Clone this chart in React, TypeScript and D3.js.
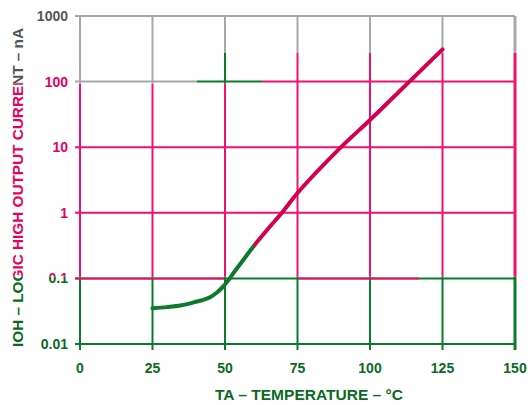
import React from "react";
import * as d3 from "d3";

const tempTicks = [0, 25, 50, 75, 100, 125, 150];
const tempTickLabels = ["0", "25", "50", "75", "100", "125", "150"];
const currentTicks = [0.01, 0.1, 1, 10, 100, 1000];
const currentTickLabels = ["0.01", "0.1", "1", "10", "100", "1000"];

const tempData = [25, 30, 35, 40, 42.5, 45, 47, 49, 51, 53, 55, 57.5, 60, 65, 70, 75, 90, 100, 110, 125];
const currentData = [0.035, 0.0365, 0.039, 0.044, 0.047, 0.052, 0.06, 0.072, 0.092, 0.122, 0.16, 0.225, 0.315, 0.58, 1.05, 2.0, 10, 26, 70, 310];

const xTitle = "TA – TEMPERATURE – °C";
const yTitle = "IOH – LOGIC HIGH OUTPUT CURRENT – nA";

const W = 530, H = 405;
const x = d3.scaleLinear().domain([0, 150]).range([80, 515]);
const y = d3.scaleLog().domain([0.01, 1000]).range([344, 16]);

const PINK = "#f0106e";
const PINK_TEXT = "#e8005e";
const CURVE_PINK = "#d3004f";
const GREEN = "#0b7a2a";
const GREEN_TEXT = "#0a6a24";
const GRAY = "#a8a8a8";
const GRAY_TEXT = "#555555";

const FONT = "'Liberation Sans', Arial, sans-serif";

function Layer({ line, text, clip }: { line: string; text: string; clip: string }) {
  return (
    <g clipPath={`url(#${clip})`}>
      {currentTicks.map((v) => (
        <line key={"h" + v} x1={x(0) - 5} x2={x(150)} y1={y(v)} y2={y(v)} stroke={line} strokeWidth={2} />
      ))}
      {tempTicks.map((t) => (
        <line key={"v" + t} x1={x(t)} x2={x(t)} y1={y(1000)} y2={y(0.01) + 6} stroke={line} strokeWidth={t === 150 ? 3 : 2} />
      ))}
      {currentTicks.map((v, i) => (
        <text key={"yl" + v} x={68} y={y(v) + 5} textAnchor="end" fontFamily={FONT} fontWeight="bold" fontSize={14} fill={text}>
          {currentTickLabels[i]}
        </text>
      ))}
      {tempTicks.map((t, i) => (
        <text key={"xl" + t} x={x(t)} y={373} textAnchor="middle" fontFamily={FONT} fontWeight="bold" fontSize={14} fill={text}>
          {tempTickLabels[i]}
        </text>
      ))}
      <text x={309} y={399.5} textAnchor="middle" fontFamily={FONT} fontWeight="bold" fontSize={15} fill={text} textLength={188} lengthAdjust="spacingAndGlyphs">
        {xTitle}
      </text>
      <text transform="translate(23,187.5) rotate(-90)" textAnchor="middle" fontFamily={FONT} fontWeight="bold" fontSize={15} fill={text} textLength={319} lengthAdjust="spacingAndGlyphs">
        {yTitle}
      </text>
    </g>
  );
}

export default function App() {
  const pts = tempData.map((t, i) => [t, currentData[i]] as [number, number]);
  const lineGen = d3
    .line<[number, number]>()
    .x((d) => x(d[0]))
    .y((d) => y(d[1]))
    .curve(d3.curveCatmullRom.alpha(0.5));

  const grayPoly = "M0,0H530V53H197V83.5H73V74H30V83.5H0Z";
  const greenBottom = "M0,276.5H530V405H0Z";
  const greenBox = "M197,53H262V83.5H197Z";

  return (
    <svg width={W} height={H} style={{ position: "absolute", left: 0, top: 0, background: "#fff" }}>
      <defs>
        <clipPath id="clipGray">
          <path d={grayPoly} />
        </clipPath>
        <clipPath id="clipGreen">
          <path d={greenBottom} />
          <path d={greenBox} />
        </clipPath>
        <clipPath id="clipPink">
          <path d={`M0,0H530V405H0Z ${grayPoly} ${greenBottom} ${greenBox}`} clipRule="evenodd" />
        </clipPath>
        <clipPath id="clipCurveGreen">
          <rect x={0} y={0} width={x(60)} height={H} />
        </clipPath>
        <clipPath id="clipCurvePink">
          <rect x={x(60)} y={0} width={W} height={H} />
        </clipPath>
      </defs>
      <rect width={W} height={H} fill="#fff" />
      <Layer line={PINK} text={PINK_TEXT} clip="clipPink" />
      <Layer line={GRAY} text={GRAY_TEXT} clip="clipGray" />
      <Layer line={GREEN} text={GREEN_TEXT} clip="clipGreen" />
      <line x1={x(0) - 5} x2={x(50)} y1={y(0.1)} y2={y(0.1)} stroke={PINK} strokeWidth={2} />
      <line x1={x(75)} x2={x(117)} y1={y(0.1)} y2={y(0.1)} stroke={PINK} strokeWidth={2} />
      <path d={lineGen(pts) || ""} fill="none" stroke={GREEN} strokeWidth={4} strokeLinecap="round" clipPath="url(#clipCurveGreen)" />
      <path d={lineGen(pts) || ""} fill="none" stroke={CURVE_PINK} strokeWidth={4} strokeLinecap="round" clipPath="url(#clipCurvePink)" />
    </svg>
  );
}
